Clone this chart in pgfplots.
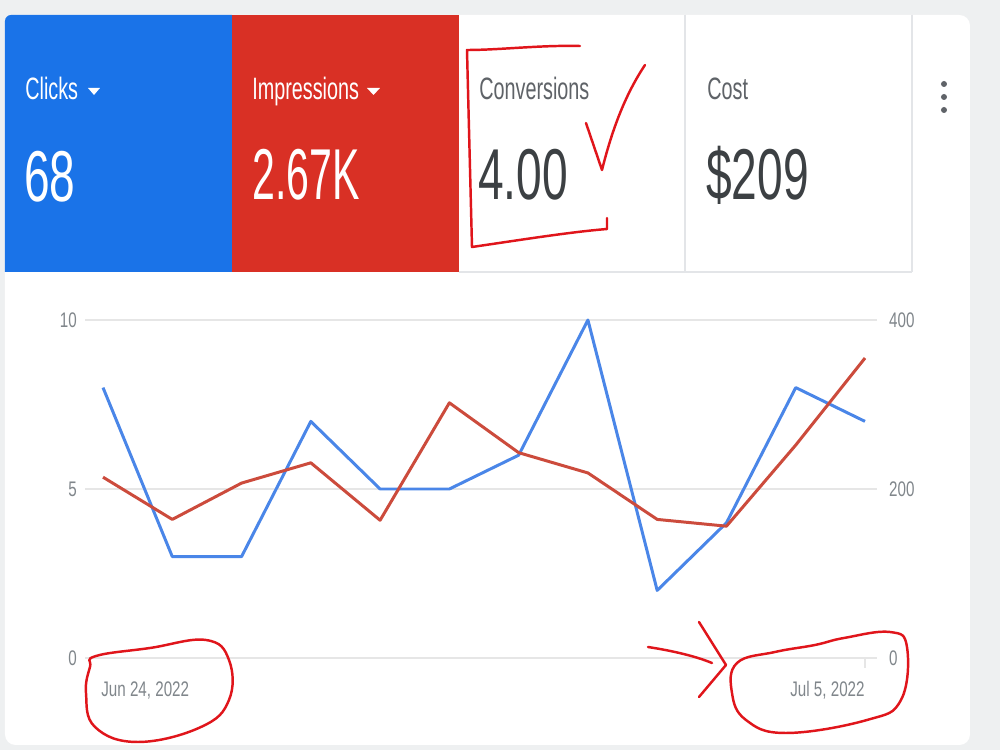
\documentclass[border=0pt]{standalone}
\usepackage{fontspec}
\setmainfont{Liberation Sans}
\usepackage{graphicx}
\usepackage{pgfplots}
\pgfplotsset{compat=1.18}
\definecolor{tileblue}{HTML}{1A73E8}
\definecolor{tilered}{HTML}{D93025}
\definecolor{lineblue}{HTML}{4A86E8}
\definecolor{linered}{HTML}{CC4B3C}
\definecolor{bggray}{HTML}{EEF0F1}
\definecolor{sepgray}{HTML}{E3E5E8}
\definecolor{gridgray}{HTML}{E6E6E6}
\definecolor{ticklbl}{HTML}{80868B}
\definecolor{lblgray}{HTML}{5F6368}
\definecolor{numgray}{HTML}{3C4043}
\definecolor{ink}{HTML}{E0151B}
\newcommand{\sq}[1]{\scalebox{0.72}[1]{#1}}
\newcommand{\sqt}[1]{\scalebox{0.64}[1]{#1}}
\newcommand{\lblfont}{\fontsize{17.6}{18}\selectfont}
\newcommand{\numfont}{\fontsize{41}{41}\selectfont}
\newcommand{\tkfont}{\fontsize{12}{12}\selectfont}
\begin{document}
\begin{tikzpicture}
\path[use as bounding box] (0,0) rectangle (200mm,150mm);
\begin{scope}[x=0.2mm,y=-0.2mm,yshift=150mm]
  % background and card
  \fill[bggray] (0,0) rectangle (1000,750);
  \fill[white, rounded corners=6] (5,15) rectangle (970,745);
  \fill[tileblue] (5,272) -- (5,21) arc[start angle=180,end angle=270,radius=6] -- (232,15) -- (232,272) -- cycle;
  \fill[tilered] (232,15) rectangle (459,272);
  \draw[sepgray, line width=0.8pt] (685,15) -- (685,272);
  \draw[sepgray, line width=0.8pt] (912,15) -- (912,272);
  \draw[sepgray, line width=0.8pt] (459,272) -- (912,272);
  % menu dots
  \foreach \yy in {84,97,110} \fill[lblgray] (944,\yy) circle (3);
  % tile texts
  \node[anchor=base west, inner sep=0, text=white] at (25,100) {\lblfont\sqt{Clicks}};
  \node[anchor=base west, inner sep=0, text=white] at (24,202) {\numfont\sqt{68}};
  \fill[white] (88,88) -- (100,88) -- (94,95) -- cycle;
  \node[anchor=base west, inner sep=0, text=white] at (252,100) {\lblfont\sqt{Impressions}};
  \node[anchor=base west, inner sep=0, text=white] at (252,200) {\numfont\scalebox{0.57}[1]{2.67K}};
  \fill[white] (367,88) -- (380,88) -- (373.5,95) -- cycle;
  \node[anchor=base west, inner sep=0, text=lblgray] at (479,100) {\lblfont\sqt{Conversions}};
  \node[anchor=base west, inner sep=0, text=numgray] at (478,200) {\numfont\sqt{4.00}};
  \node[anchor=base west, inner sep=0, text=lblgray] at (707,100) {\lblfont\sqt{Cost}};
  \node[anchor=base west, inner sep=0, text=numgray] at (706,200) {\numfont\sqt{\$209}};
  % date labels
  \node[anchor=base west, inner sep=0, text=ticklbl] at (101,697) {\tkfont\sq{Jun 24, 2022}};
  \node[anchor=base east, inner sep=0, text=ticklbl] at (865,697) {\tkfont\sq{Jul 5, 2022}};
  \draw[gridgray, line width=0.8pt] (865,658) -- (865,668);
\end{scope}
% Clicks (left axis)
\begin{axis}[at={(17mm,18.4mm)}, anchor=south west, scale only axis,
  width=158.4mm, height=67.6mm,
  xmin=-0.26, xmax=11.173, ymin=0, ymax=10,
  xtick=\empty, ytick={0,5,10},
  yticklabels={\sq{0},\sq{5},\sq{10}},
  yticklabel style={font=\tkfont, text=ticklbl, xshift=-0.4mm},
  ymajorgrids, grid style={gridgray, line width=1.3pt},
  axis line style={draw=none}, major tick length=0pt,
  clip=false]
\addplot[lineblue, line width=1.7pt, line join=round] coordinates {
(0,8) (1,3) (2,3) (3,7) (4,5) (5,5) (6,6) (7,10) (8,2) (9,4) (10,8) (11,7)};
\end{axis}
% Impressions (right axis)
\begin{axis}[at={(17mm,18.4mm)}, anchor=south west, scale only axis,
  width=158.4mm, height=67.6mm,
  xmin=-0.26, xmax=11.173, ymin=0, ymax=400,
  xtick=\empty, ytick={0,200,400},
  yticklabels={\sq{0},\sq{200},\sq{400}},
  yticklabel pos=right,
  yticklabel style={font=\tkfont, text=ticklbl, xshift=1.2mm},
  axis line style={draw=none}, major tick length=0pt,
  clip=false]
\addplot[linered, line width=1.7pt, line join=round] coordinates {
(0,214) (1,164) (2,207) (3,231) (4,163) (5,302) (6,243) (7,219) (8,164) (9,156) (10,252) (11,355)};
\end{axis}
% hand-drawn annotations
\begin{scope}[x=0.2mm,y=-0.2mm,yshift=150mm]
  \draw[ink, line width=1.4pt, line cap=round, line join=round] (580,46) .. controls (540,45) and (500,50) .. (467,50) -- (472,247) .. controls (520,240) and (570,232) .. (607,229) -- (607,218);
  \draw[ink, line width=1.4pt, line cap=round, line join=round] (586,123) -- (602,170) .. controls (612,130) and (625,95) .. (645,65);
  \draw[ink, line width=1.4pt, line cap=round] plot[smooth cycle, tension=0.7] coordinates {
    (96,656) (150,648) (206,640) (229,660) (229,700) (201,727) (138,742) (95,727) (86,693) (90,667)};
  \draw[ink, line width=1.4pt, line cap=round] plot[smooth cycle, tension=0.7] coordinates {
    (737,663) (775,652) (815,645) (844,638) (890,632) (907,647) (901,700) (867,720) (786,733) (746,720) (732,693)};
  \draw[ink, line width=1.4pt, line cap=round] (648,647) .. controls (680,652) and (700,658) .. (712,663);
  \draw[ink, line width=1.4pt, line cap=round, line join=round] (699,622) -- (726,665) -- (699,697);
\end{scope}
\end{tikzpicture}
\end{document}
